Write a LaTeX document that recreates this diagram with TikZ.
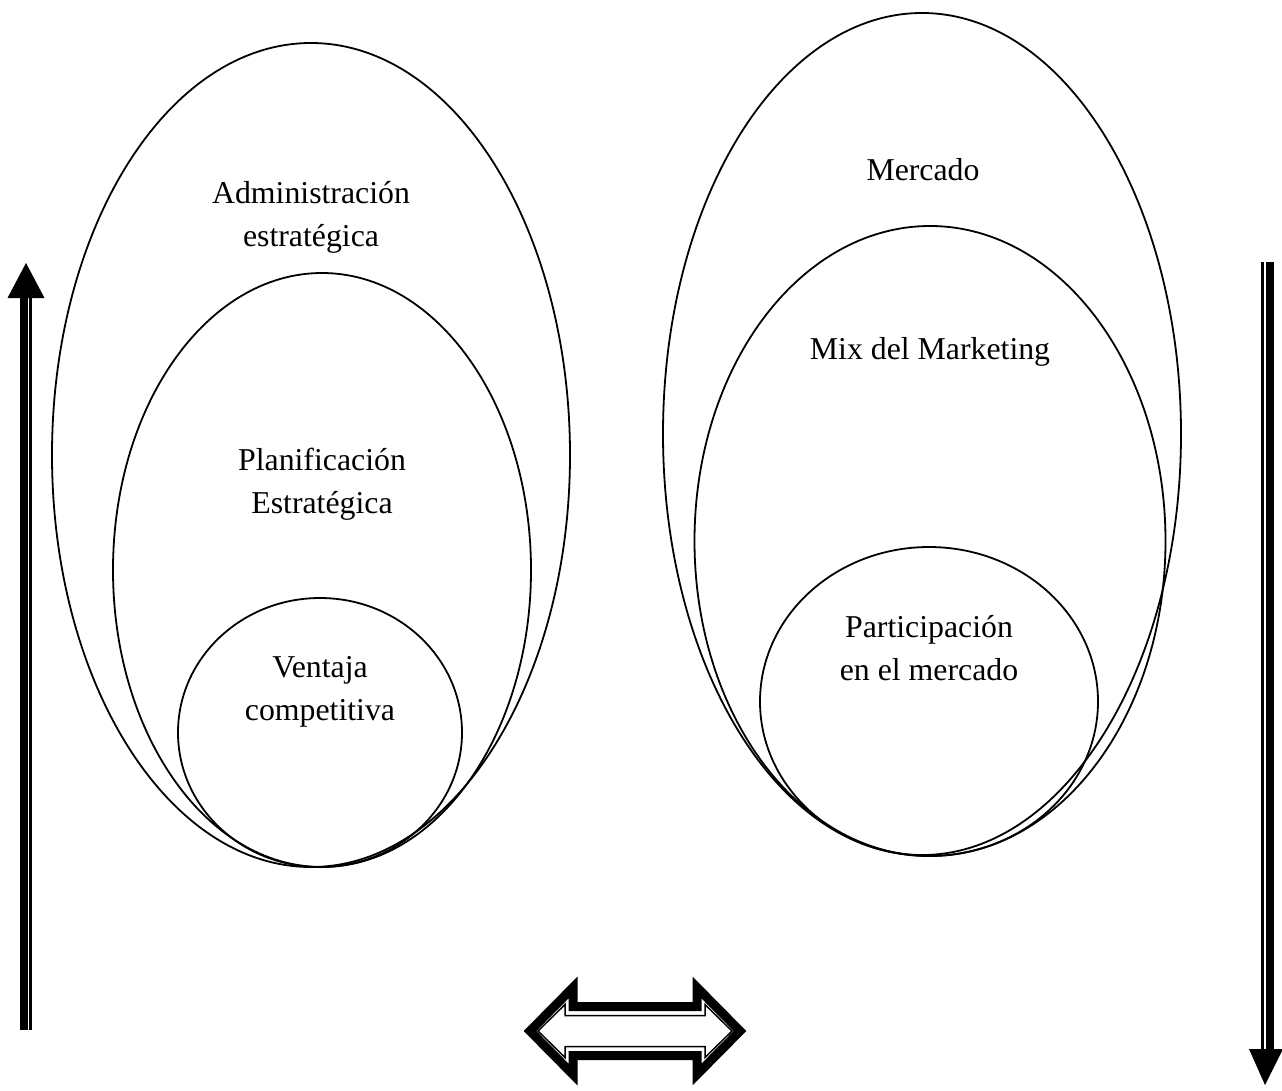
\documentclass[tikz,border=0pt]{standalone}
\usepackage{fontspec}
\setmainfont{Liberation Serif}
\usetikzlibrary{shapes.geometric}
\begin{document}
\begin{tikzpicture}[x=1pt,y=-1pt,
  ring/.style={draw=black, line width=1.8pt, ellipse, inner sep=0pt},
  label/.style={align=center, font=\fontsize{31.8}{43}\selectfont, inner sep=0pt}]
\useasboundingbox (0,0) rectangle (1282,1090);

% left group of nested ellipses
\node[ring, minimum width=518, minimum height=824] (adm) at (311,455) {};
\node[ring, minimum width=418, minimum height=594] (plan) at (322,570) {};
\node[ring, minimum width=284, minimum height=269] (vent) at (320,732.5) {};

% right group of nested ellipses
\node[ring, minimum width=518, minimum height=842] (merc) at (922,434) {};
\node[ring, minimum width=471, minimum height=630] (mix) at (930,541) {};
\node[ring, minimum width=338, minimum height=309] (part) at (929,701.5) {};

% captions
\node[label] (tadm) at (311,217) {Administración\\estratégica};
\node[label] (tplan) at (322,484) {Planificación\\Estratégica};
\node[label] (tvent) at (320,692) {Ventaja\\competitiva};
\node[label] (tmerc) at (923,170) {Mercado};
\node[label] (tmix) at (930,352) {Mix del Marketing};
\node[label] (tpart) at (929,648) {Participación\\en el mercado};

% upward arrow on the left (thick + thin shaft)
\fill (20,298) rectangle (27.5,1030);
\fill (29.3,298) rectangle (31.8,1030);
\fill (7.5,298) -- (44.5,298) -- (26,263) -- cycle;

% downward arrow on the right (thin + thick shaft)
\fill (1261,262) rectangle (1263.5,1049);
\fill (1266,262) rectangle (1274,1049);
\fill (1249,1049) -- (1283,1049) -- (1265,1085) -- cycle;

% double-headed outline arrow at the bottom
\begin{scope}[shift={(635,1031)}]
  \draw[line width=9pt, line join=miter, miter limit=10]
    (-105,0) -- (-62,-43.5) -- (-62,-24.5) -- (62,-24.5) -- (62,-43.5)
    -- (105,0) -- (62,43.5) -- (62,24.5) -- (-62,24.5) -- (-62,43.5) -- cycle;
  \draw[line width=1.5pt, line join=miter, miter limit=10]
    (-97,0) -- (-70,-26.5) -- (-70,-15.5) -- (70,-15.5) -- (70,-26.5)
    -- (97,0) -- (70,26.5) -- (70,15.5) -- (-70,15.5) -- (-70,26.5) -- cycle;
\end{scope}
\end{tikzpicture}
\end{document}
